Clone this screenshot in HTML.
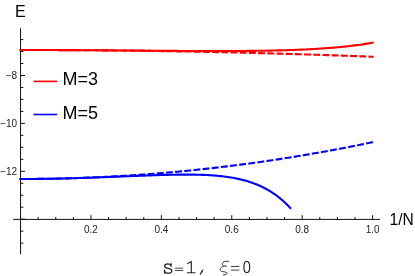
<!DOCTYPE html>
<html><head><meta charset="utf-8"><style>
html,body{margin:0;padding:0;background:#fff;}
body{width:415px;height:276px;overflow:hidden;font-family:"Liberation Sans",sans-serif;}
svg{display:block;}
</style></head><body>
<svg width="415" height="276" viewBox="0 0 415 276">
<rect width="415" height="276" fill="#fff"/>
<g stroke="#111" stroke-width="1" fill="none">
<path d="M20.55,28.2 V254.3"/>
<path d="M13.1,219.4 H380"/>
<path d="M20.55,39.58 h2.8"/>
<path d="M20.55,51.55 h2.8"/>
<path d="M20.55,63.53 h2.8"/>
<path d="M20.55,75.50 h4.5"/>
<path d="M20.55,87.48 h2.8"/>
<path d="M20.55,99.45 h2.8"/>
<path d="M20.55,111.43 h2.8"/>
<path d="M20.55,123.40 h4.5"/>
<path d="M20.55,135.38 h2.8"/>
<path d="M20.55,147.35 h2.8"/>
<path d="M20.55,159.33 h2.8"/>
<path d="M20.55,171.30 h4.5"/>
<path d="M20.55,183.28 h2.8"/>
<path d="M20.55,195.25 h2.8"/>
<path d="M20.55,207.23 h2.8"/>
<path d="M20.55,219.20 h4.5"/>
<path d="M20.55,231.18 h2.8"/>
<path d="M20.55,243.15 h2.8"/>
<path d="M20.55,219.4 v-4.2"/>
<path d="M38.15,219.4 v-2.4"/>
<path d="M55.76,219.4 v-2.4"/>
<path d="M73.36,219.4 v-2.4"/>
<path d="M90.96,219.4 v-4.2"/>
<path d="M108.56,219.4 v-2.4"/>
<path d="M126.17,219.4 v-2.4"/>
<path d="M143.77,219.4 v-2.4"/>
<path d="M161.37,219.4 v-4.2"/>
<path d="M178.97,219.4 v-2.4"/>
<path d="M196.58,219.4 v-2.4"/>
<path d="M214.18,219.4 v-2.4"/>
<path d="M231.78,219.4 v-4.2"/>
<path d="M249.38,219.4 v-2.4"/>
<path d="M266.99,219.4 v-2.4"/>
<path d="M284.59,219.4 v-2.4"/>
<path d="M302.19,219.4 v-4.2"/>
<path d="M319.79,219.4 v-2.4"/>
<path d="M337.40,219.4 v-2.4"/>
<path d="M355.00,219.4 v-2.4"/>
<path d="M372.60,219.4 v-4.2"/>
</g>
<path d="M20.55,50.00 L22.31,50.00 L24.07,50.00 L25.83,50.00 L27.59,50.00 L29.35,50.00 L31.11,50.01 L32.87,50.01 L34.63,50.01 L36.39,50.01 L38.15,50.02 L39.91,50.02 L41.67,50.02 L43.43,50.03 L45.19,50.03 L46.95,50.04 L48.71,50.04 L50.47,50.05 L52.23,50.05 L53.99,50.06 L55.76,50.07 L57.52,50.07 L59.28,50.08 L61.04,50.09 L62.80,50.10 L64.56,50.11 L66.32,50.11 L68.08,50.12 L69.84,50.13 L71.60,50.14 L73.36,50.15 L75.12,50.16 L76.88,50.17 L78.64,50.18 L80.40,50.20 L82.16,50.21 L83.92,50.22 L85.68,50.23 L87.44,50.24 L89.20,50.26 L90.96,50.27 L92.72,50.28 L94.48,50.30 L96.24,50.31 L98.00,50.33 L99.76,50.34 L101.52,50.36 L103.28,50.37 L105.04,50.39 L106.80,50.41 L108.56,50.42 L110.32,50.44 L112.08,50.46 L113.84,50.47 L115.60,50.49 L117.36,50.51 L119.12,50.53 L120.88,50.55 L122.64,50.57 L124.40,50.59 L126.16,50.61 L127.93,50.63 L129.69,50.65 L131.45,50.67 L133.21,50.69 L134.97,50.71 L136.73,50.74 L138.49,50.76 L140.25,50.78 L142.01,50.80 L143.77,50.83 L145.53,50.85 L147.29,50.87 L149.05,50.90 L150.81,50.92 L152.57,50.95 L154.33,50.97 L156.09,51.00 L157.85,51.03 L159.61,51.05 L161.37,51.08 L163.13,51.11 L164.89,51.13 L166.65,51.16 L168.41,51.19 L170.17,51.22 L171.93,51.25 L173.69,51.28 L175.45,51.31 L177.21,51.34 L178.97,51.37 L180.73,51.40 L182.49,51.43 L184.25,51.46 L186.01,51.49 L187.77,51.52 L189.53,51.56 L191.29,51.59 L193.05,51.62 L194.81,51.65 L196.58,51.69 L198.34,51.72 L200.10,51.76 L201.86,51.79 L203.62,51.83 L205.38,51.86 L207.14,51.90 L208.90,51.93 L210.66,51.97 L212.42,52.00 L214.18,52.04 L215.94,52.08 L217.70,52.12 L219.46,52.15 L221.22,52.19 L222.98,52.23 L224.74,52.27 L226.50,52.31 L228.26,52.35 L230.02,52.39 L231.78,52.43 L233.54,52.47 L235.30,52.51 L237.06,52.55 L238.82,52.59 L240.58,52.64 L242.34,52.68 L244.10,52.72 L245.86,52.76 L247.62,52.81 L249.38,52.85 L251.14,52.90 L252.90,52.94 L254.66,52.99 L256.42,53.03 L258.18,53.08 L259.94,53.12 L261.70,53.17 L263.46,53.21 L265.22,53.26 L266.99,53.31 L268.75,53.35 L270.51,53.40 L272.27,53.45 L274.03,53.50 L275.79,53.55 L277.55,53.60 L279.31,53.65 L281.07,53.70 L282.83,53.75 L284.59,53.80 L286.35,53.85 L288.11,53.90 L289.87,53.95 L291.63,54.00 L293.39,54.05 L295.15,54.11 L296.91,54.16 L298.67,54.21 L300.43,54.27 L302.19,54.32 L303.95,54.37 L305.71,54.43 L307.47,54.48 L309.23,54.54 L310.99,54.59 L312.75,54.65 L314.51,54.71 L316.27,54.76 L318.03,54.82 L319.79,54.88 L321.55,54.93 L323.31,54.99 L325.07,55.05 L326.83,55.11 L328.59,55.17 L330.35,55.23 L332.11,55.29 L333.87,55.35 L335.63,55.41 L337.40,55.47 L339.16,55.53 L340.92,55.59 L342.68,55.65 L344.44,55.71 L346.20,55.78 L347.96,55.84 L349.72,55.90 L351.48,55.96 L353.24,56.03 L355.00,56.09 L356.76,56.16 L358.52,56.22 L360.28,56.29 L362.04,56.35 L363.80,56.42 L365.56,56.48 L367.32,56.55 L369.08,56.62 L370.84,56.68 L372.60,56.75" stroke="#ff0000" stroke-width="2.1" fill="none" stroke-dasharray="4.8 4.4" stroke-dashoffset="0.55" stroke-linecap="square"/>
<path d="M20.55,50.00 L22.31,50.00 L24.07,50.00 L25.83,50.00 L27.59,50.00 L29.35,50.00 L31.11,50.01 L32.87,50.01 L34.63,50.01 L36.39,50.01 L38.15,50.02 L39.91,50.02 L41.67,50.02 L43.43,50.03 L45.19,50.03 L46.95,50.04 L48.71,50.04 L50.47,50.05 L52.23,50.05 L53.99,50.06 L55.76,50.07 L57.52,50.07 L59.28,50.08 L61.04,50.09 L62.80,50.09 L64.56,50.10 L66.32,50.11 L68.08,50.12 L69.84,50.13 L71.60,50.14 L73.36,50.15 L75.12,50.16 L76.88,50.17 L78.64,50.18 L80.40,50.19 L82.16,50.20 L83.92,50.21 L85.68,50.22 L87.44,50.23 L89.20,50.24 L90.96,50.25 L92.72,50.26 L94.48,50.28 L96.24,50.29 L98.00,50.30 L99.76,50.31 L101.52,50.33 L103.28,50.34 L105.04,50.35 L106.80,50.37 L108.56,50.38 L110.32,50.39 L112.08,50.41 L113.84,50.42 L115.60,50.44 L117.36,50.45 L119.12,50.46 L120.88,50.48 L122.64,50.49 L124.40,50.51 L126.16,50.52 L127.93,50.54 L129.69,50.55 L131.45,50.56 L133.21,50.58 L134.97,50.59 L136.73,50.61 L138.49,50.62 L140.25,50.64 L142.01,50.65 L143.77,50.67 L145.53,50.68 L147.29,50.70 L149.05,50.71 L150.81,50.72 L152.57,50.74 L154.33,50.75 L156.09,50.77 L157.85,50.78 L159.61,50.79 L161.37,50.81 L163.13,50.82 L164.89,50.83 L166.65,50.85 L168.41,50.86 L170.17,50.87 L171.93,50.88 L173.69,50.89 L175.45,50.91 L177.21,50.92 L178.97,50.93 L180.73,50.94 L182.49,50.95 L184.25,50.96 L186.01,50.97 L187.77,50.98 L189.53,50.99 L191.29,51.00 L193.05,51.00 L194.81,51.01 L196.58,51.02 L198.34,51.02 L200.10,51.03 L201.86,51.04 L203.62,51.04 L205.38,51.04 L207.14,51.05 L208.90,51.05 L210.66,51.05 L212.42,51.06 L214.18,51.06 L215.94,51.06 L217.70,51.06 L219.46,51.06 L221.22,51.06 L222.98,51.05 L224.74,51.05 L226.50,51.05 L228.26,51.04 L230.02,51.03 L231.78,51.03 L233.54,51.02 L235.30,51.01 L237.06,51.00 L238.82,50.99 L240.58,50.98 L242.34,50.97 L244.10,50.95 L245.86,50.94 L247.62,50.92 L249.38,50.90 L251.14,50.88 L252.90,50.86 L254.66,50.84 L256.42,50.82 L258.18,50.80 L259.94,50.77 L261.70,50.74 L263.46,50.71 L265.22,50.68 L266.99,50.65 L268.75,50.62 L270.51,50.58 L272.27,50.55 L274.03,50.51 L275.79,50.47 L277.55,50.42 L279.31,50.38 L281.07,50.33 L282.83,50.28 L284.59,50.23 L286.35,50.18 L288.11,50.12 L289.87,50.07 L291.63,50.01 L293.39,49.94 L295.15,49.88 L296.91,49.81 L298.67,49.74 L300.43,49.67 L302.19,49.59 L303.95,49.51 L305.71,49.43 L307.47,49.34 L309.23,49.25 L310.99,49.16 L312.75,49.06 L314.51,48.97 L316.27,48.86 L318.03,48.76 L319.79,48.64 L321.55,48.53 L323.31,48.41 L325.07,48.29 L326.83,48.16 L328.59,48.03 L330.35,47.89 L332.11,47.75 L333.87,47.60 L335.63,47.45 L337.40,47.29 L339.16,47.13 L340.92,46.96 L342.68,46.79 L344.44,46.60 L346.20,46.42 L347.96,46.22 L349.72,46.02 L351.48,45.82 L353.24,45.60 L355.00,45.38 L356.76,45.15 L358.52,44.92 L360.28,44.67 L362.04,44.42 L363.80,44.16 L365.56,43.88 L367.32,43.60 L369.08,43.31 L370.84,43.01 L372.60,42.70" stroke="#ff0000" stroke-width="2.1" fill="none" stroke-linecap="square"/>
<path d="M20.55,179.00 L22.31,179.00 L24.07,179.00 L25.83,178.99 L27.59,178.99 L29.35,178.98 L31.11,178.97 L32.87,178.95 L34.63,178.94 L36.39,178.93 L38.15,178.91 L39.91,178.89 L41.67,178.87 L43.43,178.84 L45.19,178.82 L46.95,178.79 L48.71,178.76 L50.47,178.73 L52.23,178.70 L53.99,178.67 L55.76,178.63 L57.52,178.59 L59.28,178.55 L61.04,178.51 L62.80,178.47 L64.56,178.43 L66.32,178.38 L68.08,178.33 L69.84,178.28 L71.60,178.23 L73.36,178.17 L75.12,178.12 L76.88,178.06 L78.64,178.00 L80.40,177.94 L82.16,177.87 L83.92,177.81 L85.68,177.74 L87.44,177.67 L89.20,177.60 L90.96,177.53 L92.72,177.45 L94.48,177.38 L96.24,177.30 L98.00,177.22 L99.76,177.14 L101.52,177.05 L103.28,176.97 L105.04,176.88 L106.80,176.79 L108.56,176.70 L110.32,176.61 L112.08,176.51 L113.84,176.42 L115.60,176.32 L117.36,176.22 L119.12,176.11 L120.88,176.01 L122.64,175.91 L124.40,175.80 L126.16,175.69 L127.93,175.58 L129.69,175.46 L131.45,175.35 L133.21,175.23 L134.97,175.11 L136.73,174.99 L138.49,174.87 L140.25,174.75 L142.01,174.62 L143.77,174.49 L145.53,174.36 L147.29,174.23 L149.05,174.10 L150.81,173.96 L152.57,173.82 L154.33,173.69 L156.09,173.55 L157.85,173.40 L159.61,173.26 L161.37,173.11 L163.13,172.96 L164.89,172.81 L166.65,172.66 L168.41,172.51 L170.17,172.35 L171.93,172.20 L173.69,172.04 L175.45,171.88 L177.21,171.71 L178.97,171.55 L180.73,171.38 L182.49,171.21 L184.25,171.04 L186.01,170.87 L187.77,170.70 L189.53,170.52 L191.29,170.34 L193.05,170.16 L194.81,169.98 L196.58,169.80 L198.34,169.62 L200.10,169.43 L201.86,169.24 L203.62,169.05 L205.38,168.86 L207.14,168.66 L208.90,168.47 L210.66,168.27 L212.42,168.07 L214.18,167.87 L215.94,167.66 L217.70,167.46 L219.46,167.25 L221.22,167.04 L222.98,166.83 L224.74,166.62 L226.50,166.41 L228.26,166.19 L230.02,165.97 L231.78,165.75 L233.54,165.53 L235.30,165.31 L237.06,165.08 L238.82,164.85 L240.58,164.62 L242.34,164.39 L244.10,164.16 L245.86,163.93 L247.62,163.69 L249.38,163.45 L251.14,163.21 L252.90,162.97 L254.66,162.73 L256.42,162.48 L258.18,162.23 L259.94,161.98 L261.70,161.73 L263.46,161.48 L265.22,161.22 L266.99,160.97 L268.75,160.71 L270.51,160.45 L272.27,160.19 L274.03,159.92 L275.79,159.66 L277.55,159.39 L279.31,159.12 L281.07,158.85 L282.83,158.58 L284.59,158.30 L286.35,158.02 L288.11,157.74 L289.87,157.46 L291.63,157.18 L293.39,156.90 L295.15,156.61 L296.91,156.32 L298.67,156.03 L300.43,155.74 L302.19,155.45 L303.95,155.15 L305.71,154.86 L307.47,154.56 L309.23,154.26 L310.99,153.95 L312.75,153.65 L314.51,153.34 L316.27,153.03 L318.03,152.72 L319.79,152.41 L321.55,152.10 L323.31,151.78 L325.07,151.47 L326.83,151.15 L328.59,150.82 L330.35,150.50 L332.11,150.18 L333.87,149.85 L335.63,149.52 L337.40,149.19 L339.16,148.86 L340.92,148.53 L342.68,148.19 L344.44,147.85 L346.20,147.51 L347.96,147.17 L349.72,146.83 L351.48,146.48 L353.24,146.14 L355.00,145.79 L356.76,145.44 L358.52,145.09 L360.28,144.73 L362.04,144.37 L363.80,144.02 L365.56,143.66 L367.32,143.30 L369.08,142.93 L370.84,142.57 L372.60,142.20" stroke="#0000ff" stroke-width="2.1" fill="none" stroke-dasharray="4.8 4.4" stroke-dashoffset="0.55" stroke-linecap="square"/>
<path d="M20.55,179.00 L22.25,179.00 L23.94,179.00 L25.64,178.99 L27.33,178.99 L29.03,178.98 L30.73,178.97 L32.42,178.96 L34.12,178.95 L35.81,178.93 L37.51,178.92 L39.21,178.90 L40.90,178.88 L42.60,178.86 L44.29,178.83 L45.99,178.81 L47.69,178.78 L49.38,178.76 L51.08,178.73 L52.77,178.70 L54.47,178.67 L56.17,178.63 L57.86,178.60 L59.56,178.56 L61.25,178.52 L62.95,178.48 L64.65,178.44 L66.34,178.40 L68.04,178.36 L69.74,178.31 L71.43,178.27 L73.13,178.22 L74.82,178.17 L76.52,178.12 L78.22,178.07 L79.91,178.02 L81.61,177.96 L83.30,177.91 L85.00,177.85 L86.70,177.80 L88.39,177.74 L90.09,177.68 L91.78,177.62 L93.48,177.56 L95.18,177.50 L96.87,177.44 L98.57,177.38 L100.26,177.32 L101.96,177.25 L103.66,177.19 L105.35,177.12 L107.05,177.06 L108.74,176.99 L110.44,176.92 L112.14,176.86 L113.83,176.79 L115.53,176.72 L117.22,176.65 L118.92,176.59 L120.62,176.52 L122.31,176.45 L124.01,176.38 L125.70,176.31 L127.40,176.24 L129.10,176.18 L130.79,176.11 L132.49,176.04 L134.18,175.97 L135.88,175.91 L137.58,175.84 L139.27,175.77 L140.97,175.71 L142.66,175.64 L144.36,175.58 L146.06,175.52 L147.75,175.46 L149.45,175.40 L151.15,175.34 L152.84,175.28 L154.54,175.22 L156.23,175.17 L157.93,175.11 L159.63,175.06 L161.32,175.01 L163.02,174.96 L164.71,174.92 L166.41,174.87 L168.11,174.83 L169.80,174.79 L171.50,174.76 L173.19,174.72 L174.89,174.70 L176.59,174.67 L178.28,174.65 L179.98,174.63 L181.67,174.61 L183.37,174.60 L185.07,174.60 L186.76,174.60 L188.46,174.60 L190.15,174.61 L191.85,174.62 L193.55,174.64 L195.24,174.67 L196.94,174.71 L198.63,174.75 L200.33,174.79 L202.03,174.85 L203.72,174.91 L205.42,174.99 L207.11,175.07 L208.81,175.16 L210.51,175.26 L212.20,175.37 L213.90,175.50 L215.59,175.63 L217.29,175.78 L218.99,175.94 L220.68,176.11 L222.38,176.30 L224.07,176.50 L225.77,176.72 L227.47,176.95 L229.16,177.20 L230.86,177.47 L232.55,177.76 L234.25,178.07 L235.95,178.39 L237.64,178.74 L239.34,179.12 L241.04,179.51 L242.73,179.93 L244.43,180.38 L246.12,180.85 L247.82,181.36 L249.52,181.89 L251.21,182.45 L252.91,183.05 L254.60,183.68 L256.30,184.34 L258.00,185.04 L259.69,185.78 L261.39,186.56 L263.08,187.38 L264.78,188.25 L266.48,189.16 L268.17,190.12 L269.87,191.13 L271.56,192.18 L273.26,193.30 L274.96,194.47 L276.65,195.69 L278.35,196.98 L280.04,198.33 L281.74,199.74 L283.44,201.23 L285.13,202.78 L286.83,204.41 L288.52,206.12 L290.22,207.90" stroke="#0000ff" stroke-width="2.1" fill="none" stroke-linecap="square"/>
<path d="M33.5,81.4 H57" stroke="#ff0000" stroke-width="1.6"/>
<path d="M33.5,114.5 H57" stroke="#0000ff" stroke-width="1.6"/>
<g font-family="Liberation Sans, sans-serif" fill="#000" style="filter:grayscale(1)">
<text x="62.6" y="85.4" font-size="18">M=3</text>
<text x="62.6" y="118.5" font-size="18">M=5</text>
<text x="15" y="17" font-size="16">E</text>
<text x="389.6" y="224.6" font-size="15.6">1/N</text>
</g>
<g font-family="Liberation Sans, sans-serif" fill="#222" font-size="10" style="filter:grayscale(1)">
<text x="17.2" y="79.10" text-anchor="end">−8</text>
<text x="17.2" y="127.00" text-anchor="end">−10</text>
<text x="17.2" y="174.90" text-anchor="end">−12</text>
<text x="90.96" y="233.1" text-anchor="middle">0.2</text>
<text x="161.37" y="233.1" text-anchor="middle">0.4</text>
<text x="231.78" y="233.1" text-anchor="middle">0.6</text>
<text x="302.19" y="233.1" text-anchor="middle">0.8</text>
<text x="372.60" y="233.1" text-anchor="middle">1.0</text>
</g>
<g stroke="#222" stroke-width="1.15" fill="none" stroke-linecap="round" stroke-linejoin="round">
<path d="M171.1,263.5 V266.3 M170.9,265.6 C170.2,264.4 169.2,263.8 168,263.8 C166,263.8 164.6,264.8 164.6,266.2 C164.6,267.6 166,268 168.6,268.4 C170.6,268.7 171.8,269.4 171.8,271 C171.8,272.4 170.2,273.2 167.9,273.2 C166.4,273.2 165.2,272.6 164.7,271.4 M164.5,270.2 V273.1" stroke-width="1.25"/>
<path d="M175.4,268.2 H182.8 M175.4,270.5 H182.8" stroke-width="0.95" stroke="#3a3a3a"/>
<path d="M187.7,263.6 L191.3,261.6 V272.7 M187.4,272.7 H195"/>
<path d="M202.6,270.4 L200.4,274" stroke-width="1.4"/>
<path d="M228.8,261.3 L224.9,261.4 C223.5,261.6 222.3,262.8 222.3,264.2 C222.3,265.4 223.2,265.9 224.1,266 L226.7,266.1 M224.1,266 C222.5,266.5 220.2,268 220.2,269.8 C220.2,270.8 220.8,271.3 221.8,271.5 L225.2,272 C226.4,272.2 227,272.6 227,273.3 C227,274.2 225.6,274.9 223.4,275" stroke-width="0.95" stroke="#333"/>
<path d="M231.4,266.5 H239 M231.4,270.1 H239" stroke-width="0.95" stroke="#3a3a3a"/>
<ellipse cx="246.8" cy="267" rx="2.9" ry="5.6"/>
</g>
</svg>
</body></html>
